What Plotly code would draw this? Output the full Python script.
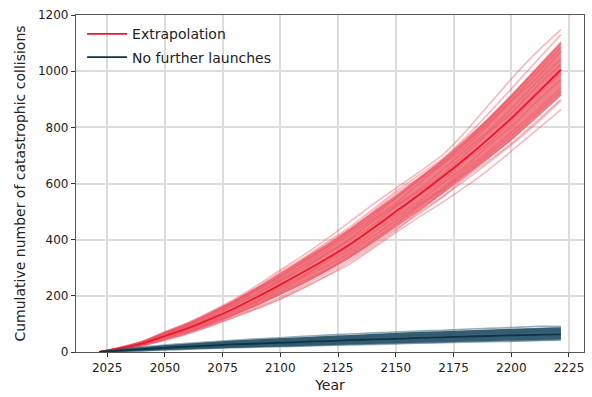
import plotly.graph_objects as go

# ---- data ----
YEARS = [2021.5, 2030, 2040, 2050, 2060, 2070, 2080, 2090, 2100, 2110, 2120,
         2130, 2140, 2150, 2160, 2170, 2180, 2190, 2200, 2210, 2221.5]

EXTRAP_MEAN = [0, 12, 30, 57, 85, 118, 155, 196, 240, 285, 332,
               383, 440, 500, 560, 622, 688, 758, 832, 912, 1005]
NOLAUNCH_MEAN = [0, 5, 10, 15, 19, 23, 27, 30, 33, 36, 39,
                 42, 45, 47, 50, 52, 55, 57, 59, 61, 63]

# dense core of the simulation bundle (offsets from the mean)
EXTRAP_CORE_UP = [0, 3, 7, 13, 17, 22, 28, 35, 42, 47, 52, 56, 58, 60, 61, 63, 68, 76, 85, 92, 98]
EXTRAP_CORE_LO = [0, -3, -7, -12, -16, -20, -25, -32, -38, -43, -47, -50, -53, -56, -58, -62, -66, -72, -80, -86, -92]
NOLAUNCH_CORE_UP = [0, 3, 6, 9, 11, 12, 14, 15, 16, 17, 18, 19, 20, 21, 22, 22, 23, 23, 24, 24, 24]
NOLAUNCH_CORE_LO = [0, -3, -6, -8, -9, -10, -11, -12, -13, -14, -15, -15, -16, -16, -17, -17, -18, -18, -18, -18, -18]

# individual simulation runs (offsets from the mean)
EXTRAP_RUNS = [
    [0, 3, 8, 15, 20, 26, 33, 42, 52, 60, 70, 80, 85, 83, 80, 78, 95, 120, 140, 148, 143],
    [0, -3, -8, -15, -20, -25, -30, -40, -50, -58, -62, -70, -72, -75, -80, -90, -100, -110, -117, -128, -142],
    [0, 2, 6, 12, 18, 22, 28, 36, 45, 50, 58, 62, 68, 72, 70, 65, 75, 90, 105, 115, 125],
    [0, -2, -7, -12, -18, -24, -32, -42, -52, -55, -60, -62, -66, -68, -62, -70, -78, -85, -95, -105, -110],
    [0, 1, 4, 8, 12, 18, 22, 25, 30, 38, 42, 48, 52, 50, 55, 60, 68, 70, 80, 90, 100],
    [0, -1, -4, -9, -14, -16, -20, -28, -35, -40, -42, -45, -50, -55, -58, -52, -55, -65, -75, -85, -90],
    [0, 2, 5, 10, 10, 14, 18, 22, 20, 25, 30, 35, 32, 30, 40, 45, 42, 50, 60, 55, 65],
    [0, -2, -5, -6, -10, -12, -15, -18, -22, -20, -25, -30, -28, -32, -35, -40, -38, -45, -50, -60, -65],
    [0, 1, 3, 5, 8, 6, 10, 14, 12, 18, 15, 20, 25, 22, 18, 25, 30, 28, 35, 40, 38],
    [0, -1, -2, -4, -5, -8, -6, -10, -12, -15, -12, -18, -15, -20, -25, -22, -28, -25, -30, -28, -35],
    [0, 3, 7, 14, 16, 24, 28, 32, 38, 45, 52, 55, 60, 65, 60, 55, 58, 65, 78, 85, 95],
    [0, -3, -8, -14, -17, -22, -26, -36, -44, -48, -52, -55, -58, -62, -68, -72, -68, -78, -90, -98, -105],
    [0, 2, 4, 6, 4, 8, 12, 8, 15, 10, 20, 15, 10, 18, 12, 8, 15, 22, 18, 25, 20],
    [0, -2, -3, -7, -4, -10, -8, -14, -6, -12, -5, -8, -2, -10, -5, -12, -5, -15, -10, -5, -12],
    [0, 1, 6, 11, 15, 20, 25, 30, 28, 35, 40, 45, 42, 48, 52, 48, 55, 58, 65, 72, 80],
    [0, -1, -6, -11, -15, -18, -22, -25, -30, -32, -38, -40, -42, -45, -40, -45, -48, -55, -62, -70, -78],
]
NOLAUNCH_RUNS = [
    [0, 4, 8, 10, 12, 13, 15, 17, 18, 20, 21, 22, 23, 24, 25, 25, 26, 27, 28, 30, 28],
    [0, -4, -6, -8, -9, -10, -12, -13, -14, -15, -16, -17, -18, -18, -19, -19, -20, -20, -21, -21, -20],
    [0, 2, 5, 6, 8, 9, 10, 12, 12, 13, 15, 14, 16, 17, 17, 18, 19, 18, 20, 22, 24],
    [0, -2, -5, -6, -7, -9, -9, -10, -12, -13, -13, -14, -15, -15, -16, -17, -16, -18, -18, -19, -18],
    [0, 1, 3, 3, 5, 6, 6, 8, 7, 9, 10, 9, 11, 12, 11, 12, 13, 14, 13, 15, 16],
    [0, -1, -3, -4, -4, -5, -6, -6, -8, -7, -9, -10, -9, -11, -10, -12, -11, -13, -12, -14, -13],
    [0, 2, 2, 4, 3, 4, 5, 4, 6, 5, 7, 6, 8, 7, 9, 8, 7, 9, 8, 10, 9],
    [0, -2, -2, -3, -2, -3, -4, -3, -5, -4, -5, -6, -5, -4, -6, -5, -7, -6, -5, -7, -6],
]

X_TICKS = [2025, 2050, 2075, 2100, 2125, 2150, 2175, 2200, 2225]
Y_TICKS = [0, 200, 400, 600, 800, 1000, 1200]

RED = "#e6192e"
RED_RUN = "rgba(236,80,94,0.40)"
RED_CORE = "rgba(240,108,118,0.88)"
BLUE = "#0b3446"
BLUE_RUN = "rgba(44,88,108,0.50)"
BLUE_CORE = "rgba(44,86,106,0.92)"


def add(a, b):
    return [p + q for p, q in zip(a, b)]


fig = go.Figure()


def add_bundle(mean, core_up, core_lo, runs, core_col, run_col, mean_col, name):
    up = add(mean, core_up)
    lo = add(mean, core_lo)
    fig.add_trace(go.Scatter(x=YEARS + YEARS[::-1], y=up + lo[::-1], fill="toself",
                             fillcolor=core_col, line=dict(width=0),
                             mode="lines", showlegend=False, hoverinfo="skip"))
    for r in runs:
        fig.add_trace(go.Scatter(x=YEARS, y=add(mean, r), mode="lines",
                                 line=dict(color=run_col, width=1.6, shape="spline", smoothing=0.6),
                                 showlegend=False, hoverinfo="skip"))
    fig.add_trace(go.Scatter(x=YEARS, y=mean, mode="lines", name=name, legendgroup=name,
                             line=dict(color=mean_col, width=1.8, shape="spline", smoothing=0.6)))


add_bundle(EXTRAP_MEAN, EXTRAP_CORE_UP, EXTRAP_CORE_LO, EXTRAP_RUNS,
           RED_CORE, RED_RUN, RED, "Extrapolation")
add_bundle(NOLAUNCH_MEAN, NOLAUNCH_CORE_UP, NOLAUNCH_CORE_LO, NOLAUNCH_RUNS,
           BLUE_CORE, BLUE_RUN, BLUE, "No further launches")

axis_common = dict(
    showgrid=True, gridcolor="#dcdcdc", gridwidth=1.5,
    showline=True, linecolor="#555555", linewidth=1.2, mirror=True,
    ticks="outside", ticklen=4, tickcolor="#333333", tickwidth=1,
    zeroline=False, tickfont=dict(size=12, color="#222222"),
    automargin=False,
)

fig.update_layout(
    width=592, height=397,
    margin=dict(l=76, r=8, t=15, b=45),
    paper_bgcolor="white", plot_bgcolor="white",
    font=dict(family="DejaVu Sans", color="#222222"),
    xaxis=dict(range=[2011.5, 2231.5], tickvals=X_TICKS,
               title=dict(text="Year", font=dict(size=14), standoff=6), **axis_common),
    yaxis=dict(range=[0, 1200], tickvals=Y_TICKS,
               title=dict(text="Cumulative number of catastrophic collisions",
                          font=dict(size=14), standoff=9), **axis_common),
    legend=dict(x=0.012, y=0.99, xanchor="left", yanchor="top",
                bgcolor="rgba(255,255,255,0)", font=dict(size=14, color="#222222"),
                traceorder="grouped", tracegroupgap=2, itemwidth=40),
    showlegend=True,
)

fig.write_html("out.html", config={"displayModeBar": False},
               post_script="document.body.style.margin='0px';")
